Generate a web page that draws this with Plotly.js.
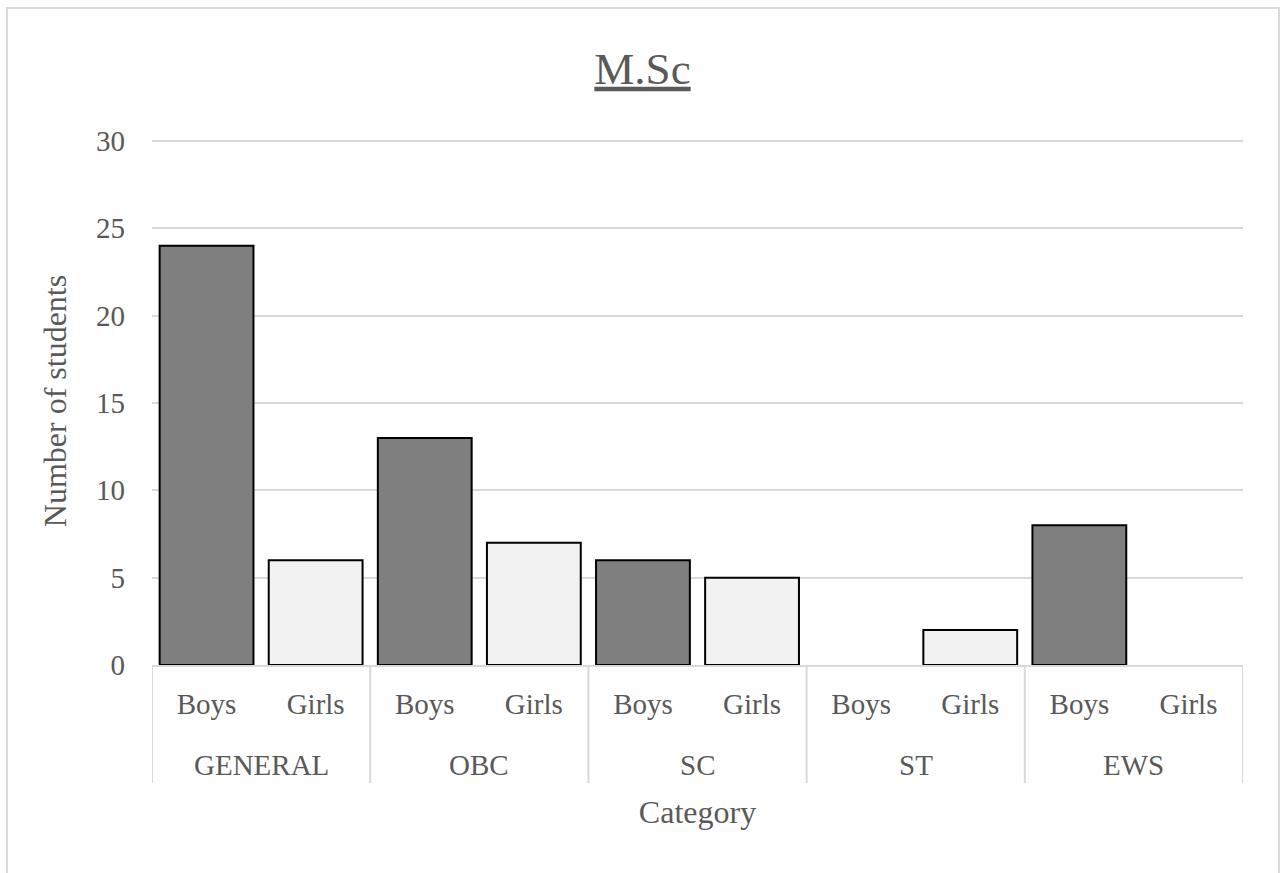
<!DOCTYPE html>
<html>
<head>
<meta charset="utf-8">
<script src="https://cdn.plot.ly/plotly-3.0.1.min.js"></script>
<style>
  html, body { margin: 0; padding: 0; background: #fff; }
  #chart { width: 1285px; height: 873px; }
</style>
</head>
<body>
<div id="chart"></div>
<script>
const categories = ['GENERAL', 'GENERAL', 'OBC', 'OBC', 'SC', 'SC', 'ST', 'ST', 'EWS', 'EWS'];
const genders = ['Boys', 'Girls', 'Boys', 'Girls', 'Boys', 'Girls', 'Boys', 'Girls', 'Boys', 'Girls'];
const students = [24, 6, 13, 7, 6, 5, 0, 2, 8, 0];
const genderColors = { Boys: '#7f7f7f', Girls: '#f2f2f2' };
const yTicks = [0, 5, 10, 15, 20, 25, 30];

const FONT = '"Liberation Serif", "Times New Roman", serif';
const TXT = '#595959';
const GRID = '#d9d9d9';

const W = 1285, H = 873;
// y=0 at 665px, y=30 at 141px; leave a little room above the top gridline
const yBottomPx = 665, yTopPx = 141, mTop = 137;
const yMax = yTicks[yTicks.length - 1];
const yRangeTop = yMax * (yBottomPx - mTop) / (yBottomPx - yTopPx);
const mL = 152, mR = 42, mT = mTop, mB = H - yBottomPx;
const pw = W - mL - mR, ph = H - mT - mB;
const px = v => (v - mL) / pw;
const py = v => (H - mB - v) / ph;

const idx = students.map((_, i) => i);

// groups (main categories) derived from the category array
const groups = [];
categories.forEach((c, i) => {
  const g = groups.find(o => o.name === c);
  if (g) { g.last = i; } else { groups.push({ name: c, first: i, last: i }); }
});

const trace = {
  type: 'bar',
  x: idx,
  y: students,
  customdata: categories.map((c, i) => c + ' ' + genders[i]),
  hovertemplate: '%{customdata}: %{y}<extra></extra>',
  marker: {
    color: genders.map(g => genderColors[g]),
    line: { color: '#000000', width: students.map(v => (v === 0 ? 0 : 2)) }
  }
};

const dividerBoundaries = [];
groups.forEach((g, k) => {
  if (k === 0) dividerBoundaries.push(g.first - 0.5);
  dividerBoundaries.push(g.last + 0.5);
});

const shapes = dividerBoundaries.map(b => ({
  type: 'line', xref: 'x', yref: 'paper',
  x0: b, x1: b, y0: 0, y1: py(783),
  line: { color: GRID, width: 2 }
}));
shapes.push({
  type: 'rect', xref: 'paper', yref: 'paper',
  x0: px(7), x1: px(1279), y0: py(890), y1: py(8),
  line: { color: GRID, width: 2 },
  fillcolor: 'rgba(0,0,0,0)',
  layer: 'below'
});

const annotations = groups.map(g => ({
  x: (g.first + g.last) / 2, xref: 'x',
  y: py(765), yref: 'paper',
  text: g.name, showarrow: false,
  xanchor: 'center', yanchor: 'middle',
  font: { family: FONT, size: 29, color: TXT }
}));

const layout = {
  width: W, height: H,
  margin: { l: mL, r: mR, t: mT, b: mB, pad: 0 },
  paper_bgcolor: '#ffffff',
  plot_bgcolor: '#ffffff',
  showlegend: false,
  bargap: 0.14,
  font: { family: FONT, color: TXT, size: 29 },
  title: {
    text: '<u>M.Sc</u>',
    font: { family: FONT, size: 45, color: TXT },
    x: 0.5, xanchor: 'center',
    xref: 'container',
    y: 1 - 68 / H, yref: 'container', yanchor: 'middle'
  },
  xaxis: {
    range: [-0.5, students.length - 0.5],
    tickvals: idx,
    ticktext: genders,
    showline: true, linecolor: GRID, linewidth: 2,
    showgrid: false, zeroline: false,
    ticks: '',
    ticklabelstandoff: 12,
    tickfont: { family: FONT, size: 29, color: TXT },
    title: { text: 'Category', font: { family: FONT, size: 32, color: TXT }, standoff: 82 },
    fixedrange: true
  },
  yaxis: {
    range: [0, yRangeTop],
    tickvals: yTicks,
    ticktext: yTicks.map(String),
    showgrid: true, gridcolor: GRID, gridwidth: 2,
    zeroline: false, showline: false,
    ticks: '',
    ticklabelstandoff: 26,
    tickfont: { family: FONT, size: 29, color: TXT },
    title: { text: 'Number of students', font: { family: FONT, size: 32, color: TXT }, standoff: 19 },
    fixedrange: true
  },
  shapes: shapes,
  annotations: annotations
};

Plotly.newPlot('chart', [trace], layout, { displayModeBar: false, staticPlot: true });
</script>
</body>
</html>
